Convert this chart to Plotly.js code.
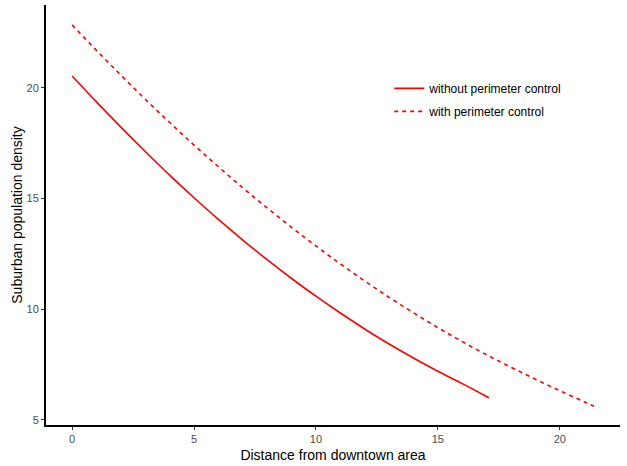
<!DOCTYPE html>
<html>
<head>
<meta charset="utf-8">
<script src="https://cdn.plot.ly/plotly-3.0.1.min.js"></script>
<style>html,body{margin:0;padding:0;background:#fff;}#chart{width:627px;height:466px;}</style>
</head>
<body>
<div id="chart"></div>
<script>
// Distance from downtown area (x) and density readings for each scenario
const distWithout = [0, 1, 2, 3, 4, 5, 6, 7, 8, 9, 10, 11, 12, 13, 14, 15, 16, 17, 17.1];
const densWithout = [20.54, 19.37, 18.23, 17.13, 16.06, 15.04, 14.06, 13.13, 12.24, 11.39, 10.59, 9.83, 9.11, 8.43, 7.8, 7.2, 6.64, 6.06, 6.0];
const distWith = [0, 1, 2, 3, 4, 5, 6, 7, 8, 9, 10, 11, 12, 13, 14, 15, 16, 17, 18, 19, 20, 21, 21.4];
const densWith = [22.85, 21.7, 20.58, 19.49, 18.44, 17.42, 16.44, 15.49, 14.58, 13.7, 12.86, 12.05, 11.28, 10.54, 9.84, 9.17, 8.54, 7.94, 7.38, 6.84, 6.32, 5.82, 5.62];
const seriesNames = ["without perimeter control", "with perimeter control"];
const xTicks = [0, 5, 10, 15, 20];
const yTicks = [5, 10, 15, 20];

const red = "#ff0000";
const traces = [
  {x: distWithout, y: densWithout, type: "scatter", mode: "lines", name: seriesNames[0], legendgroup: "a",
   line: {color: red, width: 1.6, shape: "spline"}},
  {x: distWith, y: densWith, type: "scatter", mode: "lines", name: seriesNames[1], legendgroup: "b",
   line: {color: red, width: 1.6, dash: "4px,4px", shape: "spline"}}
];

const font = "Liberation Sans, Arial, Helvetica, sans-serif";
const layout = {
  width: 627, height: 466,
  margin: {l: 46, r: 7, t: 5, b: 41},
  paper_bgcolor: "#fff", plot_bgcolor: "#fff",
  font: {family: font, color: "#000"},
  showlegend: true,
  legend: {x: 0.598, y: 0.836, xanchor: "left", yanchor: "top",
    font: {family: font, size: 12, color: "#000"}, bgcolor: "rgba(0,0,0,0)",
    tracegroupgap: 4, itemwidth: 30},
  xaxis: {
    range: [-1.07, 22.47], tickvals: xTicks, ticktext: xTicks.map(String),
    showgrid: false, zeroline: false, showline: true, linecolor: "#000", linewidth: 2,
    ticks: "outside", ticklen: 3, tickwidth: 1, tickcolor: "#333",
    tickfont: {family: font, size: 11, color: "#4d4d4d"},
    title: {text: "Distance from downtown area", font: {family: font, size: 14, color: "#000"}, standoff: 6}
  },
  yaxis: {
    range: [4.77, 23.75], tickvals: yTicks, ticktext: yTicks.map(String),
    showgrid: false, zeroline: false, showline: true, linecolor: "#000", linewidth: 2,
    ticks: "outside", ticklen: 3, tickwidth: 1, tickcolor: "#333",
    tickfont: {family: font, size: 11, color: "#4d4d4d"},
    title: {text: "Suburban population density", font: {family: font, size: 14, color: "#000"}, standoff: 1}
  }
};
Plotly.newPlot("chart", traces, layout, {displayModeBar: false, staticPlot: true});
</script>
</body>
</html>
